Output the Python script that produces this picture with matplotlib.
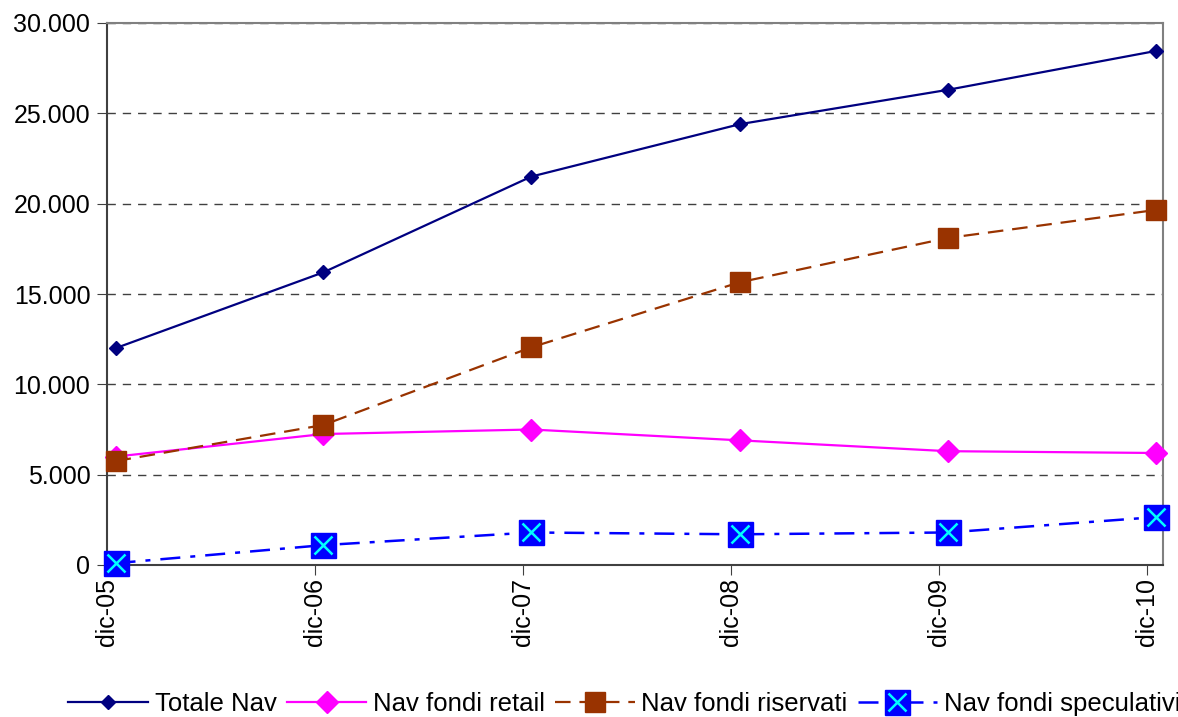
import matplotlib.pyplot as plt
from matplotlib.ticker import FuncFormatter, MultipleLocator
from matplotlib.legend_handler import HandlerTuple
import pandas as pd

plt.rcParams['font.family'] = ['Liberation Sans', 'DejaVu Sans']

# NAV a fine anno (milioni di euro)
anni = [2005, 2006, 2007, 2008, 2009, 2010]
etichette = ['dic-05', 'dic-06', 'dic-07', 'dic-08', 'dic-09', 'dic-10']
totale_nav = [12000, 16200, 21500, 24400, 26300, 28450]
nav_retail = [6000, 7250, 7500, 6900, 6300, 6200]
nav_riservati = [5750, 7750, 12050, 15650, 18100, 19650]
nav_speculativi = [100, 1100, 1800, 1700, 1800, 2650]

date_dati = pd.to_datetime([f'{a}-12-16' for a in anni])
date_tick = pd.to_datetime([f'{a}-12-01' for a in anni])

fig = plt.figure(figsize=(11.78, 7.17), dpi=100)
ax = fig.add_axes([107 / 1178, 1 - 565 / 717, (1163 - 107) / 1178, (565 - 23) / 717])

l1, = ax.plot(date_dati, totale_nav, color='#000080', lw=1.6, marker='D', ms=7,
              mec='#000080', mfc='#000080', label='Totale Nav', zorder=5, clip_on=False)
l2, = ax.plot(date_dati, nav_retail, color='#FF00FF', lw=1.6, marker='D', ms=11,
              mec='#FF00FF', mfc='#FF00FF', label='Nav fondi retail', zorder=4, clip_on=False)
l3, = ax.plot(date_dati, nav_riservati, color='#993300', lw=1.6, ls=(0, (7, 4)), marker='s', ms=15,
              mec='#993300', mfc='#993300', label='Nav fondi riservati', zorder=4, clip_on=False)
l4, = ax.plot(date_dati, nav_speculativi, color='#0000FF', lw=1.8, ls=(0, (8, 4, 2, 4)), marker='s', ms=18,
              mec='#0000FF', mfc='#0000FF', zorder=4, clip_on=False)
l4x, = ax.plot(date_dati, nav_speculativi, ls='none', marker='x', ms=13, mew=1.8,
               color='#00FFFF', zorder=6, clip_on=False)

ax.set_ylim(0, 30000)
ax.set_xlim(pd.Timestamp('2005-12-01'), pd.Timestamp('2010-12-29'))
ax.yaxis.set_major_locator(MultipleLocator(5000))
ax.yaxis.set_major_formatter(FuncFormatter(lambda v, p: f'{int(v):,}'.replace(',', '.')))
ax.set_xticks(date_tick)
ax.set_xticklabels(etichette, rotation=90)
ax.tick_params(axis='both', labelsize=18, length=7, color='#404040', direction='out')
ax.tick_params(axis='x', pad=2)
ax.tick_params(axis='y', pad=5)

ax.grid(axis='y', color='#404040', ls=(0, (6, 5)), lw=1)
ax.set_axisbelow(True)
for s in ['left', 'bottom']:
    ax.spines[s].set_color('#404040')
    ax.spines[s].set_linewidth(1.5)
for s in ['top', 'right']:
    ax.spines[s].set_color('#808080')
    ax.spines[s].set_linewidth(1.5)

fig.legend([l1, l2, l3, (l4, l4x)],
           ['Totale Nav', 'Nav fondi retail', 'Nav fondi riservati', 'Nav fondi speculativi'],
           handler_map={tuple: HandlerTuple(ndivide=1, pad=0)},
           loc='lower center', bbox_to_anchor=(0.53, -0.031), ncol=4, frameon=False,
           fontsize=18.5, handlelength=3.1, columnspacing=0.4, handletextpad=0.25)

fig.savefig('out.png', dpi=100)
